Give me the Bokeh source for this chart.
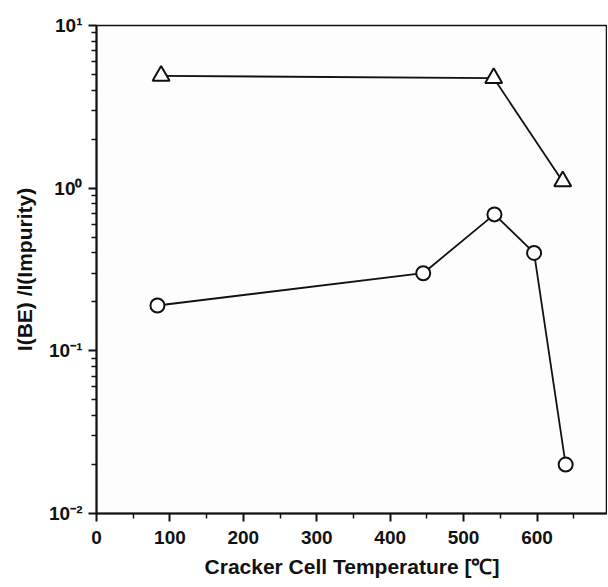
from bokeh.plotting import figure
from bokeh.models import Range1d, CustomJSTickFormatter, FixedTicker
from bokeh.embed import file_html
from bokeh.resources import INLINE

# Data
tri_x = [88, 541, 635]
tri_y = [4.9, 4.75, 1.1]
circ_x = [83, 445, 542, 596, 639]
circ_y = [0.19, 0.30, 0.69, 0.40, 0.020]
x_ticks = [0, 100, 200, 300, 400, 500, 600]
x_minor = [50, 150, 250, 350, 450, 550, 650]
y_ticks = [0.01, 0.1, 1, 10]

FONT = "Liberation Sans"

p = figure(width=607, height=580, y_axis_type="log",
           x_range=Range1d(0, 696), y_range=Range1d(0.01, 10),
           output_backend="svg", toolbar_location=None,
           min_border_left=96, min_border_right=0, min_border_top=25,
           background_fill_color="#fdfdfd", border_fill_color="white")
p.grid.visible = False
p.outline_line_color = "#111111"
p.outline_line_width = 1.5

line_kw = dict(line_color="#111111", line_width=1.8)
p.line(tri_x, tri_y, **line_kw)
p.line(circ_x, circ_y, **line_kw)
p.scatter(tri_x, tri_y, marker="triangle", size=17, fill_color="white",
          line_color="#111111", line_width=2)
p.scatter(circ_x, circ_y, marker="circle", size=14, fill_color="white",
          line_color="#111111", line_width=2)

xa = p.xaxis[0]
xa.ticker = FixedTicker(ticks=x_ticks, minor_ticks=x_minor)
xa.axis_label = "Cracker Cell Temperature [\u2103]"
ya = p.yaxis[0]
ya.ticker = FixedTicker(ticks=y_ticks,
                        minor_ticks=[m * d for d in (0.01, 0.1, 1) for m in range(2, 10)])
ya.formatter = CustomJSTickFormatter(code="""
const e = Math.round(Math.log10(tick));
const sup = {'-2':'\u207b\u00b2','-1':'\u207b\u00b9','0':'\u2070','1':'\u00b9'};
return '10' + sup[String(e)];
""")
ya.axis_label = "I(BE) /I(Impurity)"

for ax in (xa, ya):
    ax.axis_line_color = "#111111"
    ax.axis_line_width = 2
    ax.major_tick_line_color = "#111111"
    ax.major_tick_line_width = 2
    ax.minor_tick_line_color = "#111111"
    ax.minor_tick_line_width = 1.5
    ax.major_tick_in = 0
    ax.major_tick_out = 8
    ax.minor_tick_in = 0
    ax.minor_tick_out = 5
    ax.major_label_text_font = FONT
    ax.major_label_text_font_style = "bold"
    ax.major_label_text_font_size = "19px"
    ax.major_label_text_color = "#111111"
    ax.axis_label_text_font = FONT
    ax.axis_label_text_font_style = "bold"
    ax.axis_label_text_font_size = "21px"
    ax.axis_label_text_color = "#111111"
ya.major_label_standoff = 6
xa.major_label_standoff = 9
xa.axis_label_standoff = 8
ya.axis_label_standoff = 10

open("out.html", "w").write(file_html(p, INLINE))
